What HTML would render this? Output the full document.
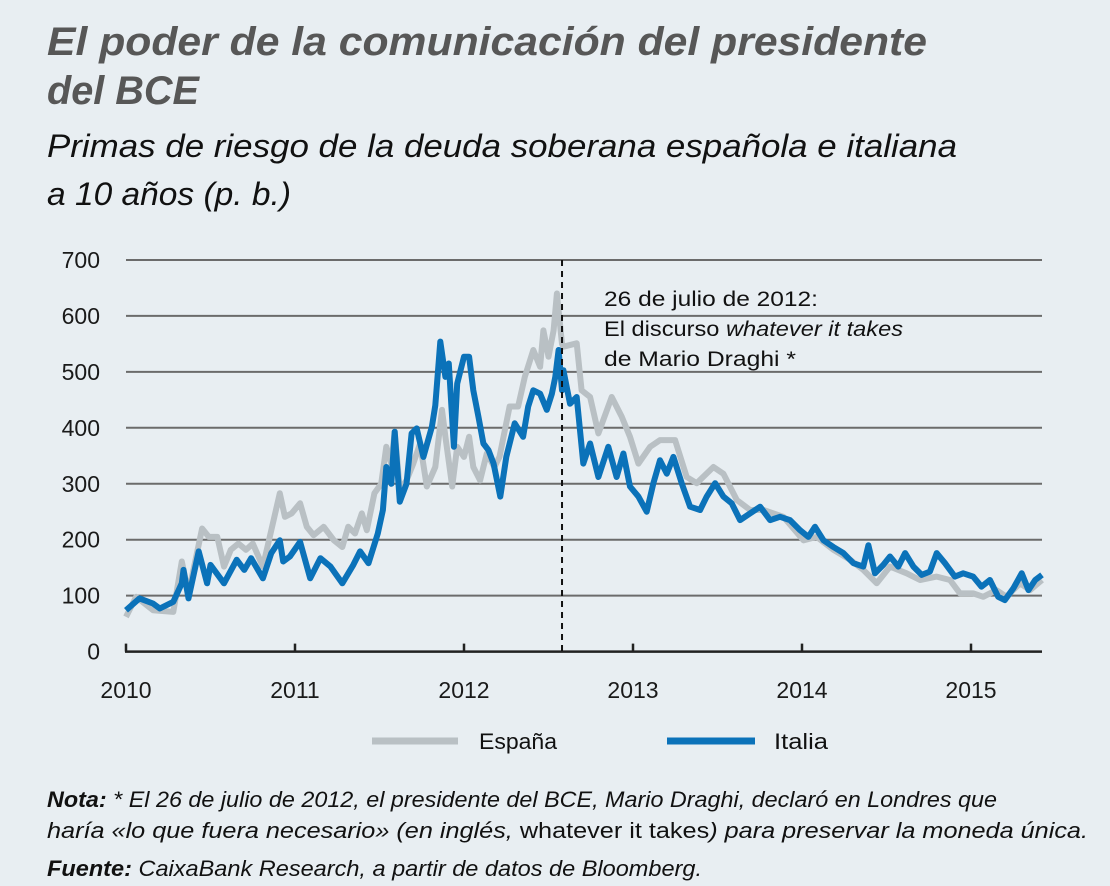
<!DOCTYPE html>
<html><head><meta charset="utf-8"><style>
html,body{margin:0;padding:0;background:#e8eef2;}
svg{display:block;font-family:"Liberation Sans",sans-serif;}
</style></head><body>
<svg id="chart" width="1110" height="886" viewBox="0 0 1110 886">
<rect width="1110" height="886" fill="#e8eef2"/>
<text x="47" y="55" font-size="40" font-weight="bold" font-style="italic" fill="#575757" textLength="880" lengthAdjust="spacingAndGlyphs">El poder de la comunicación del presidente</text>
<text x="47" y="104" font-size="40" font-weight="bold" font-style="italic" fill="#575757" textLength="152" lengthAdjust="spacingAndGlyphs">del BCE</text>
<text x="47" y="157" font-size="32" font-style="italic" fill="#111" textLength="910" lengthAdjust="spacingAndGlyphs">Primas de riesgo de la deuda soberana española e italiana</text>
<text x="47" y="205" font-size="32" font-style="italic" fill="#111" textLength="244" lengthAdjust="spacingAndGlyphs">a 10 años (p. b.)</text>
<g id="grid"></g>
<g id="series"></g>
<g id="annot">
<text x="604" y="306" font-size="21" fill="#111" textLength="214" lengthAdjust="spacingAndGlyphs">26 de julio de 2012:</text>
<text x="604" y="336" font-size="21" fill="#111" textLength="299" lengthAdjust="spacingAndGlyphs">El discurso <tspan font-style="italic">whatever it takes</tspan></text>
<text x="604" y="366" font-size="21" fill="#111" textLength="192" lengthAdjust="spacingAndGlyphs">de Mario Draghi *</text>
</g>
<g>
<line x1="372" y1="741" x2="458" y2="741" stroke="#b9c0c4" stroke-width="7"/>
<text x="479" y="749" font-size="22" fill="#111" textLength="78" lengthAdjust="spacingAndGlyphs">España</text>
<line x1="667" y1="741" x2="755" y2="741" stroke="#0b72b9" stroke-width="7"/>
<text x="774" y="749" font-size="22" fill="#111" textLength="54" lengthAdjust="spacingAndGlyphs">Italia</text>
</g>
<text x="47" y="807" font-size="22" font-style="italic" fill="#111" textLength="950" lengthAdjust="spacingAndGlyphs"><tspan font-weight="bold">Nota:</tspan> * El 26 de julio de 2012, el presidente del BCE, Mario Draghi, declaró en Londres que</text>
<text x="47" y="838" font-size="22" font-style="italic" fill="#111" textLength="1041" lengthAdjust="spacingAndGlyphs">haría «lo que fuera necesario» (en inglés, <tspan font-style="normal">whatever it takes</tspan>) para preservar la moneda única.</text>
<text x="47" y="876" font-size="22" font-style="italic" fill="#111" textLength="655" lengthAdjust="spacingAndGlyphs"><tspan font-weight="bold">Fuente:</tspan> CaixaBank Research, a partir de datos de Bloomberg.</text>
</svg>
<script>
const yTicks=[0,100,200,300,400,500,600,700];
const xTicks=[2010,2011,2012,2013,2014,2015];
const eventDate=2012.58;
const italiaDates=[2010.0,2010.08,2010.16,2010.2,2010.28,2010.33,2010.34,2010.37,2010.43,2010.48,2010.5,2010.58,2010.655,2010.7,2010.74,2010.81,2010.86,2010.91,2010.93,2010.97,2011.03,2011.09,2011.15,2011.21,2011.28,2011.345,2011.385,2011.435,2011.49,2011.52,2011.54,2011.57,2011.59,2011.62,2011.66,2011.69,2011.72,2011.76,2011.81,2011.83,2011.86,2011.89,2011.91,2011.94,2011.96,2012.0,2012.03,2012.055,2012.085,2012.115,2012.145,2012.175,2012.215,2012.25,2012.3,2012.35,2012.38,2012.41,2012.45,2012.49,2012.52,2012.54,2012.56,2012.58,2012.588,2012.627,2012.667,2012.706,2012.746,2012.795,2012.854,2012.903,2012.943,2012.982,2013.032,2013.081,2013.121,2013.16,2013.2,2013.239,2013.288,2013.338,2013.397,2013.436,2013.486,2013.535,2013.584,2013.634,2013.693,2013.752,2013.811,2013.87,2013.929,2013.989,2014.038,2014.077,2014.127,2014.186,2014.245,2014.304,2014.363,2014.393,2014.432,2014.481,2014.521,2014.57,2014.61,2014.659,2014.708,2014.757,2014.797,2014.846,2014.905,2014.954,2015.013,2015.062,2015.112,2015.161,2015.2,2015.25,2015.3,2015.34,2015.38,2015.42];
const italiaValues=[74,95,86,77,89,122,146,95,179,122,155,122,164,146,167,131,176,199,161,170,196,131,167,152,122,155,179,158,211,253,330,300,393,268,300,390,399,348,402,440,554,491,515,366,479,527,527,467,420,372,360,336,277,348,408,384,438,467,461,432,461,491,539,467,503,443,455,336,372,312,366,312,354,295,277,250,301,342,318,348,301,259,253,277,301,277,265,235,247,259,235,241,235,217,205,223,199,187,176,158,152,190,140,155,170,152,176,152,137,143,176,158,134,140,134,116,128,98,92,113,140,110,128,137];
const espanaDates=[2010.0,2010.06,2010.16,2010.28,2010.33,2010.37,2010.45,2010.49,2010.54,2010.58,2010.62,2010.665,2010.71,2010.75,2010.81,2010.86,2010.91,2010.94,2010.98,2011.03,2011.07,2011.11,2011.17,2011.23,2011.28,2011.315,2011.355,2011.395,2011.425,2011.47,2011.51,2011.54,2011.57,2011.59,2011.62,2011.66,2011.7,2011.74,2011.78,2011.83,2011.87,2011.89,2011.93,2011.96,2012.0,2012.03,2012.055,2012.095,2012.135,2012.18,2012.21,2012.27,2012.32,2012.36,2012.41,2012.45,2012.47,2012.5,2012.53,2012.55,2012.58,2012.588,2012.667,2012.696,2012.746,2012.795,2012.874,2012.933,2012.982,2013.032,2013.101,2013.16,2013.249,2013.318,2013.377,2013.476,2013.535,2013.614,2013.693,2013.772,2013.89,2014.009,2014.087,2014.186,2014.285,2014.363,2014.442,2014.521,2014.619,2014.698,2014.797,2014.876,2014.935,2015.013,2015.072,2015.15,2015.21,2015.29,2015.35,2015.42];
const espanaValues=[62,98,74,71,161,104,220,205,205,152,182,193,182,193,152,217,283,241,247,265,223,208,223,199,187,223,211,247,217,283,300,366,336,393,289,306,336,372,295,330,432,384,295,366,348,384,330,306,354,330,348,438,438,491,539,509,574,527,574,640,550,545,551,467,455,390,455,420,384,336,366,378,378,312,301,330,318,271,253,253,241,199,205,182,164,146,122,152,140,128,134,128,104,104,98,110,98,122,110,128];

const NS='http://www.w3.org/2000/svg';
const X0=126,PXY=169,Y0=651.6,PXV=0.5595,XEND=1042;
const xs=d=>X0+(d-2010)*PXY;
const ys=v=>Y0-v*PXV;
function mk(tag,attrs,parent){const e=document.createElementNS(NS,tag);for(const k in attrs)e.setAttribute(k,attrs[k]);parent.appendChild(e);return e;}
const grid=document.getElementById('grid');
yTicks.forEach(v=>{
  if(v>0){const l=mk('line',{x1:X0,x2:XEND,y1:ys(v),y2:ys(v),stroke:'#6b6b6b','stroke-width':2},grid);
  
  }
  const t=mk('text',{x:100,y:ys(v)+8,'font-size':23,'text-anchor':'end',fill:'#1a1a1a'},grid);
  t.textContent=v;
  
  
});
xTicks.forEach(d=>{
  const l=mk('line',{x1:xs(d),x2:xs(d),y1:Y0-8,y2:Y0,stroke:'#222','stroke-width':2.5},grid);
  
  
  const t=mk('text',{x:xs(d),y:698,'font-size':23,'text-anchor':'middle',fill:'#1a1a1a'},grid);
  t.textContent=d;
  
  
});
const ax=mk('line',{x1:X0-1,x2:XEND,y1:Y0,y2:Y0,stroke:'#222','stroke-width':2.5},grid);


const series=document.getElementById('series');
function path(dates,vals){return dates.map((d,i)=>(i?'L':'M')+xs(d).toFixed(1)+' '+ys(vals[i]).toFixed(1)).join(' ');}
const pe=mk('path',{d:path(espanaDates,espanaValues),fill:'none',stroke:'#b9c0c4','stroke-width':6,'stroke-linejoin':'round'},series);


const pi=mk('path',{d:path(italiaDates,italiaValues),fill:'none',stroke:'#0b72b9','stroke-width':6,'stroke-linejoin':'round'},series);


const ev=mk('line',{x1:xs(eventDate),x2:xs(eventDate),y1:ys(700),y2:Y0,stroke:'#111','stroke-width':2,'stroke-dasharray':'6,5'},series);


</script>
</body></html>
